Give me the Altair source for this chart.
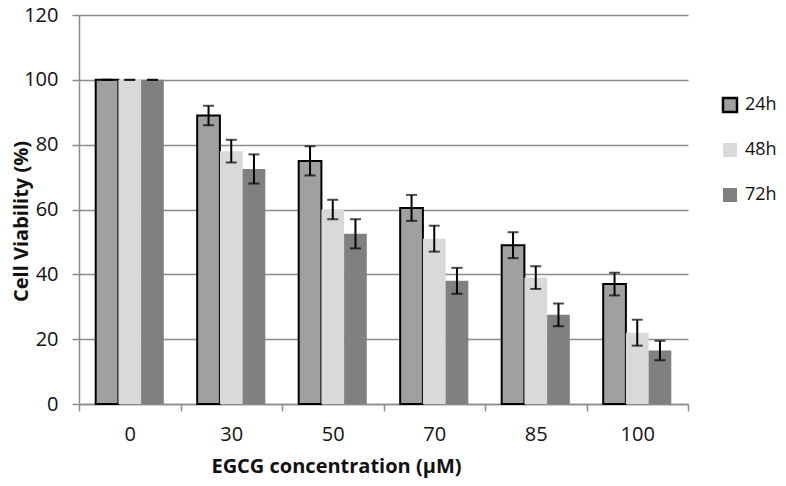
import altair as alt
import pandas as pd

concentrations = ["0", "30", "50", "70", "85", "100"]
series = ["24h", "48h", "72h"]
v24 = [100, 89, 75, 60.5, 49, 37]
e24 = [0, 3, 4.5, 4, 4, 3.5]
v48 = [100, 78, 60, 51, 39, 22]
e48 = [0, 3.5, 3, 4, 3.5, 4]
v72 = [100, 72.5, 52.5, 38, 27.5, 16.5]
e72 = [0, 4.5, 4.5, 4, 3.5, 3]
fills = ["#a0a0a0", "#d9d9d9", "#808080"]
strokes = ["#000000", "transparent", "transparent"]

rows = []
for s, vals, errs in zip(series, [v24, v48, v72], [e24, e48, e72]):
    for c, v, e in zip(concentrations, vals, errs):
        rows.append({"conc": c, "series": s, "value": v, "lo": v - e, "hi": v + e})
df = pd.DataFrame(rows)

FONT = "Open Sans"
GRID = "#8c8c8c"

x = alt.X("conc:N", sort=concentrations,
          scale=alt.Scale(paddingInner=0, paddingOuter=0),
          axis=alt.Axis(title="EGCG concentration (μM)", labelAngle=0, tickBand="extent",
                        labelPadding=13,
                        titleX=257, titleY=62, titleAlign="center", titleBaseline="middle"))
xo = alt.XOffset("series:N", sort=series,
                 scale=alt.Scale(paddingInner=0, paddingOuter=0.735))
y = alt.Y("value:Q", scale=alt.Scale(domain=[0, 120]),
          axis=alt.Axis(title="Cell Viability (%)", values=[0, 20, 40, 60, 80, 100, 120],
                        grid=True, labelAlign="right", labelPadding=14,
                        titleX=-58, titleY=206, titleAlign="center",
                        titleBaseline="middle"))

legend = alt.Legend(title=None, orient="none", legendX=642, legendY=81,
                    symbolType="square", symbolSize=196, labelOffset=6,
                    labelFontSize=18, labelFont=FONT, labelColor="#111",
                    rowPadding=21, symbolStrokeWidth=2.5)

base = alt.Chart(df)

bars = base.mark_bar(strokeWidth=2).encode(
    x=x, xOffset=xo, y=y,
    fill=alt.Fill("series:N", sort=series,
                  scale=alt.Scale(domain=series, range=fills), legend=legend),
    stroke=alt.Stroke("series:N", sort=series,
                      scale=alt.Scale(domain=series, range=strokes), legend=legend),
)

rules = base.mark_rule(color="black", strokeWidth=2).encode(
    x=x, xOffset=xo, y=alt.Y("lo:Q"), y2="hi:Q")
caps_hi = base.mark_tick(color="black", thickness=2, size=11).encode(
    x=x, xOffset=xo, y=alt.Y("hi:Q"))
caps_lo = base.mark_tick(color="black", thickness=2, size=11).encode(
    x=x, xOffset=xo, y=alt.Y("lo:Q"))

chart = (bars + rules + caps_hi + caps_lo).properties(
    width=609, height=389, background="white",
    autosize=alt.AutoSizeParams(type="none"),
    padding={"left": 71, "top": 7, "right": 90, "bottom": 74}
).configure_view(stroke=None).configure_axis(
    labelFont=FONT, titleFont=FONT, labelFontSize=20, titleFontSize=20,
    titleFontWeight="bold", labelColor="#111", titleColor="#111",
    tickColor=GRID, tickWidth=1.5, tickSize=7, domainColor=GRID, domainWidth=1.5,
    gridColor=GRID, gridWidth=1.5
).configure_axisY(labelPadding=14, labelAlign="right").configure_axisX(labelPadding=13, grid=False)

chart.save("out.html", embed_options={"renderer": "svg", "actions": False})
